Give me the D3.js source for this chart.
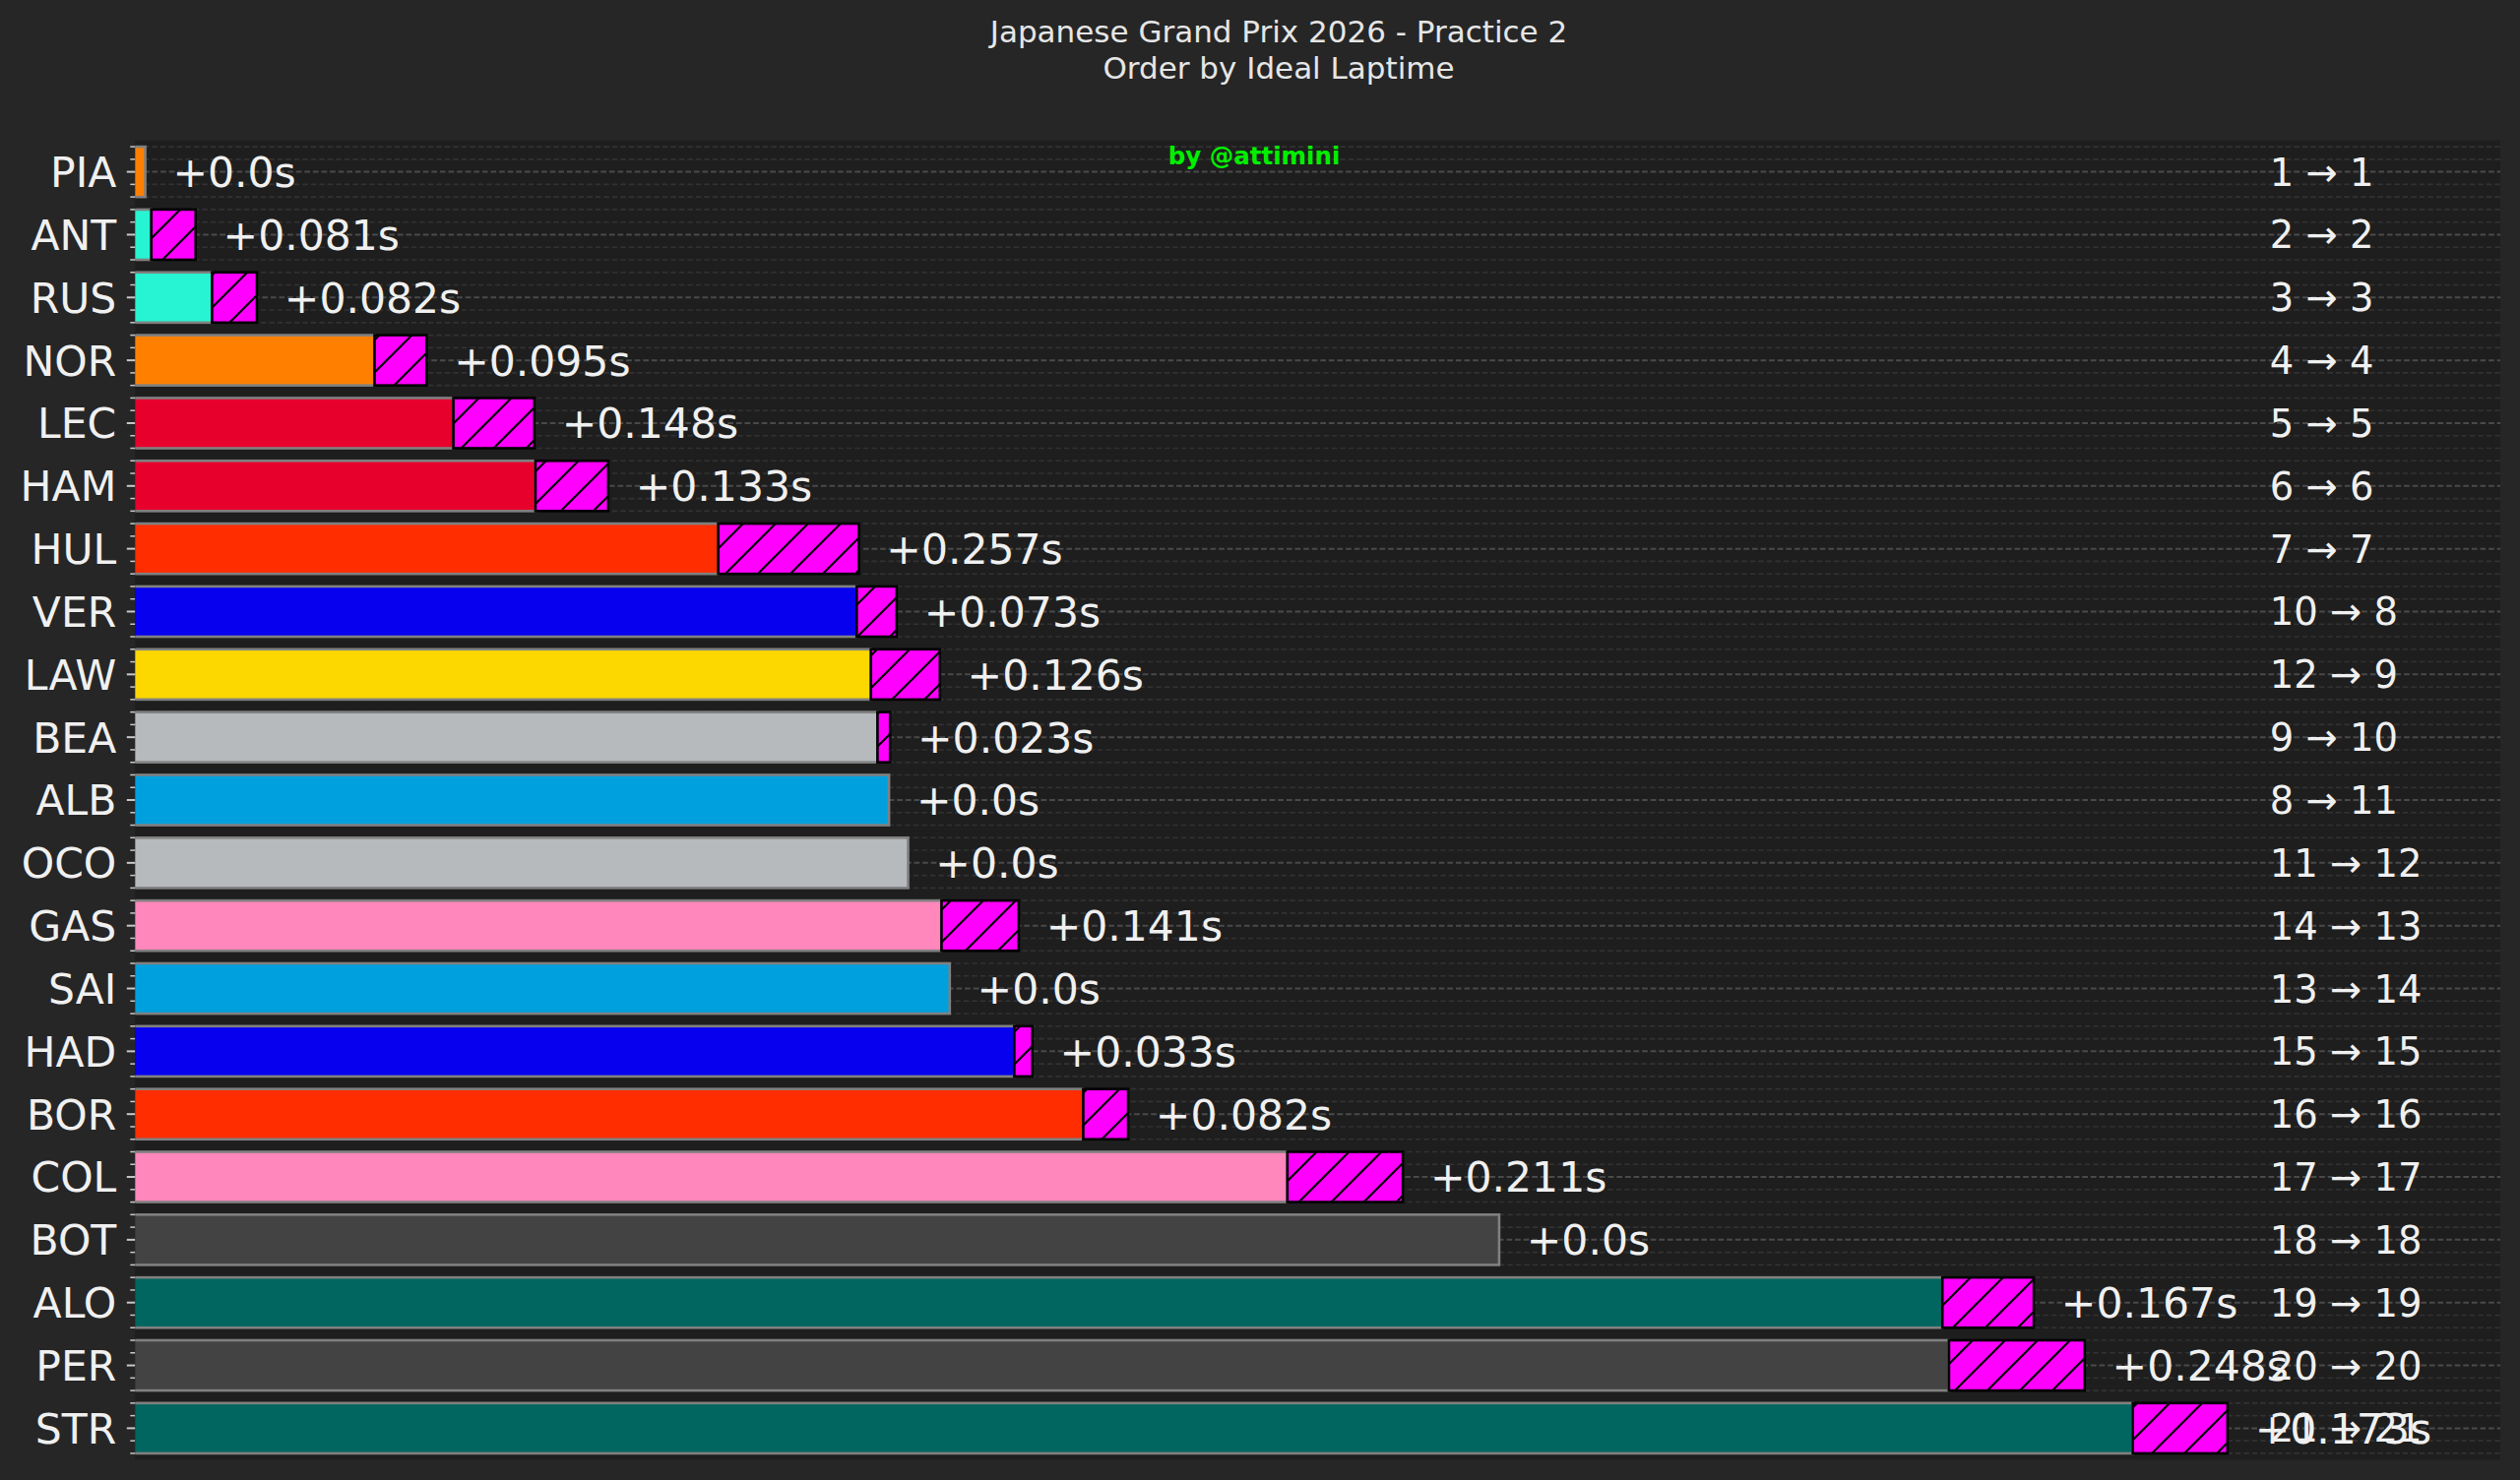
<!DOCTYPE html>
<html>
<head>
<meta charset="utf-8">
<script src="https://cdn.jsdelivr.net/npm/d3@7"></script>
<style>
  html, body { margin: 0; padding: 0; background: #262626; }
  svg { display: block; font-family: "DejaVu Sans", sans-serif; }
</style>
</head>
<body>
<svg id="svg-ideal" width="2560" height="1504"></svg>
<script>
// data (gaps in seconds to the fastest ideal lap)
var drivers = ["PIA","ANT","RUS","NOR","LEC","HAM","HUL","VER","LAW","BEA","ALB",
               "OCO","GAS","SAI","HAD","BOR","COL","BOT","ALO","PER","STR"];
var idealGap = [0.000, 0.011, 0.122, 0.419, 0.563, 0.713, 1.047, 1.300, 1.326, 1.338, 1.359,
                1.394, 1.455, 1.470, 1.588, 1.714, 2.087, 2.474, 3.284, 3.296, 3.632];
var lostTime = [0.0, 0.081, 0.082, 0.095, 0.148, 0.133, 0.257, 0.073, 0.126, 0.023, 0.0,
                0.0, 0.141, 0.0, 0.033, 0.082, 0.211, 0.0, 0.167, 0.248, 0.173];
var bestPos = [1, 2, 3, 4, 5, 6, 7, 10, 12, 9, 8, 11, 14, 13, 15, 16, 17, 18, 19, 20, 21];
var idealPos = [1, 2, 3, 4, 5, 6, 7, 8, 9, 10, 11, 12, 13, 14, 15, 16, 17, 18, 19, 20, 21];
var teamColors = ["#FF8000","#27F4D2","#27F4D2","#FF8000","#E8002D","#E8002D","#FF2D00",
                  "#0600EF","#FCD700","#B6BABD","#00A0DE","#B6BABD","#FF87BC","#00A0DE",
                  "#0600EF","#FF2D00","#FF87BC","#434343","#00665F","#434343","#00665F"];
var titleLines = ["Japanese Grand Prix 2026 - Practice 2", "Order by Ideal Laptime"];
var xMin = -0.0185, xMax = 4.3035;
var rankX = 3.882;     // where the position change column sits (data units)
var labelPad = 0.05;   // gap between bar end and delta label (data units)

var dataset = drivers.map(function(d, i) {
  return { driver: d, ideal: idealGap[i], lost: lostTime[i], best: bestPos[i],
           pos: idealPos[i], color: teamColors[i], row: i };
});

var svg = d3.select("#svg-ideal");
var W = 2560, H = 1504;
var axLeft = 137.3, axRight = 2540, axTop = 142.7, axBottom = 1483.3;

svg.append("rect").attr("width", W).attr("height", H).attr("fill", "#262626");
svg.append("rect")
   .attr("x", axLeft).attr("y", axTop)
   .attr("width", axRight - axLeft).attr("height", axBottom - axTop)
   .attr("fill", "#1e1e1e");

var xScale = d3.scaleLinear().domain([xMin, xMax]).range([axLeft, axRight]);
var yScale = d3.scaleLinear().domain([-0.5, drivers.length - 0.5]).range([axTop, axBottom]);
var rowH = yScale(1) - yScale(0);

var defs = svg.append("defs");
defs.append("clipPath").attr("id", "axclip")
    .append("rect")
    .attr("x", axLeft).attr("y", axTop)
    .attr("width", axRight - axLeft).attr("height", axBottom - axTop);

// matplotlib style "/" hatch
var hs = 33;
var pat = defs.append("pattern").attr("id", "hatch")
    .attr("patternUnits", "userSpaceOnUse")
    .attr("width", hs).attr("height", hs);
pat.append("rect").attr("width", hs).attr("height", hs).attr("fill", "#FF00FF");
pat.append("path")
   .attr("d", "M0," + hs + "L" + hs + ",0M" + (-hs / 4) + "," + (hs / 4) + "L" + (hs / 4) + "," + (-hs / 4) +
              "M" + (hs * 3 / 4) + "," + (hs * 5 / 4) + "L" + (hs * 5 / 4) + "," + (hs * 3 / 4))
   .attr("stroke", "#000").attr("stroke-width", 2.2);

// minor + major positions on the y axis
var minorOffsets = [-0.4, -0.2, 0.2, 0.4];
var minorPos = [];
dataset.forEach(function(d) {
  minorOffsets.forEach(function(o) { minorPos.push(d.row + o); });
});

var grid = svg.append("g").attr("clip-path", "url(#axclip)");
grid.selectAll(".minorGrid")
    .data(minorPos)
    .enter()
    .append("line")
    .attr("class", "minorGrid")
    .attr("x1", axLeft).attr("x2", axRight)
    .attr("y1", function(d) { return yScale(d); })
    .attr("y2", function(d) { return yScale(d); })
    .attr("stroke", "#323232").attr("stroke-width", 1.6)
    .attr("stroke-dasharray", "5.5,3");
grid.selectAll(".majorGrid")
    .data(dataset)
    .enter()
    .append("line")
    .attr("class", "majorGrid")
    .attr("x1", axLeft).attr("x2", axRight)
    .attr("y1", function(d) { return yScale(d.row); })
    .attr("y2", function(d) { return yScale(d.row); })
    .attr("stroke", "#4a4a4a").attr("stroke-width", 2)
    .attr("stroke-dasharray", "5.7,2.9");

// ticks on the left
svg.selectAll(".minorTick")
   .data(minorPos)
   .enter()
   .append("line")
   .attr("x1", axLeft - 5).attr("x2", axLeft)
   .attr("y1", function(d) { return yScale(d); })
   .attr("y2", function(d) { return yScale(d); })
   .attr("stroke", "#c8c8c8").attr("stroke-width", 1.5);
svg.selectAll(".majorTick")
   .data(dataset)
   .enter()
   .append("line")
   .attr("x1", axLeft - 8.5).attr("x2", axLeft)
   .attr("y1", function(d) { return yScale(d.row); })
   .attr("y2", function(d) { return yScale(d.row); })
   .attr("stroke", "#c8c8c8").attr("stroke-width", 2);

var barH = rowH * 0.8;
var bars = svg.append("g").attr("clip-path", "url(#axclip)");

// ideal laptime bars
bars.selectAll(".bars")
    .data(dataset)
    .enter()
    .append("rect")
    .attr("class", "bars")
    .attr("x", xScale(xMin) - 10)
    .attr("y", function(d) { return yScale(d.row) - barH / 2; })
    .attr("width", function(d) { return xScale(d.ideal) - xScale(xMin) + 10; })
    .attr("height", barH)
    .attr("fill", function(d) { return d.color; })
    .attr("stroke", "#808080").attr("stroke-width", 2.6);

// time lost vs ideal (hatched)
bars.selectAll(".lost")
    .data(dataset.filter(function(d) { return d.lost > 0; }))
    .enter()
    .append("rect")
    .attr("class", "lost")
    .attr("x", function(d) { return xScale(d.ideal); })
    .attr("y", function(d) { return yScale(d.row) - barH / 2; })
    .attr("width", function(d) { return xScale(d.ideal + d.lost) - xScale(d.ideal); })
    .attr("height", barH)
    .attr("fill", "url(#hatch)")
    .attr("stroke", "#000").attr("stroke-width", 2.6);

// driver names
svg.selectAll(".axisLabels")
   .data(dataset)
   .enter()
   .append("text")
   .attr("class", "axisLabels")
   .attr("x", axLeft - 19)
   .attr("y", function(d) { return yScale(d.row) + 42.5 * 0.364; })
   .attr("text-anchor", "end")
   .attr("font-size", 42.5)
   .attr("fill", "#f0f0f0")
   .text(function(d) { return d.driver; });

// delta labels
svg.selectAll(".dataLabels")
   .data(dataset)
   .enter()
   .append("text")
   .attr("class", "dataLabels")
   .attr("x", function(d) { return xScale(d.ideal + d.lost + labelPad); })
   .attr("y", function(d) { return yScale(d.row) + 42.5 * 0.364; })
   .attr("font-size", 42.5)
   .attr("fill", "#f0f0f0")
   .text(function(d) { return "+" + (d.lost === 0 ? "0.0" : String(d.lost)) + "s"; });

// position change
svg.selectAll(".rankLabels")
   .data(dataset)
   .enter()
   .append("text")
   .attr("class", "rankLabels")
   .attr("x", xScale(rankX))
   .attr("y", function(d) { return yScale(d.row) + 38.5 * 0.364; })
   .attr("font-size", 38.5)
   .attr("fill", "#f0f0f0")
   .text(function(d) { return d.best + " \u2192 " + d.pos; });

// title
svg.selectAll(".title")
   .data(titleLines)
   .enter()
   .append("text")
   .attr("class", "title")
   .attr("x", 1299)
   .attr("y", function(d, i) { return 43.3 + i * 36.8; })
   .attr("text-anchor", "middle")
   .attr("font-size", 31)
   .attr("fill", "#e6e6e6")
   .text(function(d) { return d; });

// watermark
svg.append("text")
   .attr("x", 1274).attr("y", 166.7)
   .attr("text-anchor", "middle")
   .attr("font-size", 24.5)
   .attr("font-weight", "bold")
   .attr("fill", "#00f000")
   .text("by @attimini");
</script>
</body>
</html>
